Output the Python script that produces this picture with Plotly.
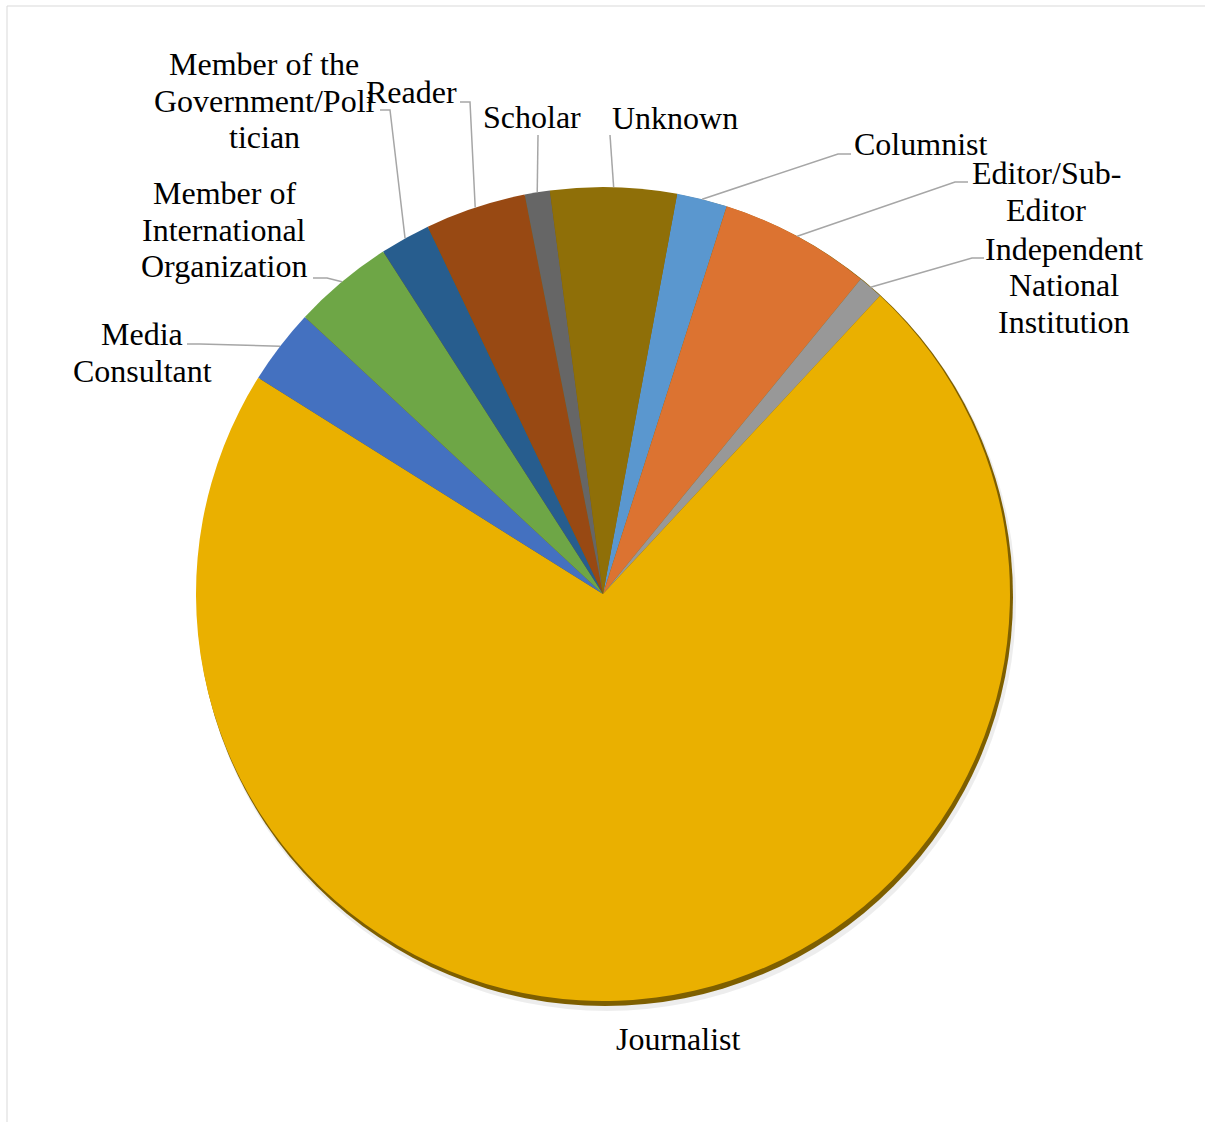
import math
import plotly.graph_objects as go

# ---------------- data ----------------
categories = [
    "Columnist",
    "Editor/Sub-Editor",
    "Independent National Institution",
    "Journalist",
    "Media Consultant",
    "Member of International Organization",
    "Member of the Government/Politician",
    "Reader",
    "Scholar",
    "Unknown",
]
values = [2, 6, 1, 72, 3, 4, 2, 4, 1, 5]
label_text = [
    ["Columnist"],
    ["Editor/Sub-", "Editor"],
    ["Independent", "National", "Institution"],
    ["Journalist"],
    ["Media", "Consultant"],
    ["Member of", "International", "Organization"],
    ["Member of the", "Government/Poli", "tician"],
    ["Reader"],
    ["Scholar"],
    ["Unknown"],
]

# ---------------- style / layout ----------------
W, H = 1205, 1122
colors = ["#5A97CF", "#DC7331", "#989898", "#EAB000", "#4471C0",
          "#6EA646", "#275D8E", "#984913", "#666666", "#8F6F08"]
ROTATION = 10.5
CX, CY, R = 603, 594, 407          # pie centre / radius in pixels
FONT = "Liberation Serif"
FSIZE = 32
LINE_H = 36.5
LEADER = "#A6A6A6"

# label block centre x, first-line centre y, leader start, elbow (pixels)
label_layout = {
    "Columnist": dict(x=921, y=144, start=(851, 154), elbow=(838, 154)),
    "Editor/Sub-Editor": dict(x=1046, y=173, start=(968, 182), elbow=(955, 182)),
    "Independent National Institution": dict(x=1064, y=249, start=(984, 258), elbow=(972, 258)),
    "Journalist": dict(x=678, y=1039, start=None, elbow=None),
    "Media Consultant": dict(x=142, y=334, start=(187, 344), elbow=(200, 344)),
    "Member of International Organization": dict(x=224, y=193, start=(313, 278), elbow=(327, 278)),
    "Member of the Government/Politician": dict(x=264, y=64, start=(380, 110), elbow=(390, 110)),
    "Reader": dict(x=411, y=92, start=(460, 102), elbow=(470, 102)),
    "Scholar": dict(x=532, y=117, start=(538, 135), elbow=(538, 135)),
    "Unknown": dict(x=675, y=118, start=(610, 135), elbow=(610, 135)),
}


def px(x):
    return x / W


def py(y):
    return 1 - y / H


fig = go.Figure()
fig.add_trace(go.Pie(
    labels=categories,
    values=values,
    sort=False,
    direction="clockwise",
    rotation=ROTATION,
    marker=dict(colors=colors, line=dict(width=0)),
    textinfo="none",
    hoverinfo="label+value+percent",
    showlegend=False,
    domain=dict(x=[px(CX - R), px(CX + R)], y=[py(CY + R), py(CY - R)]),
))

shapes = []
# chart-area border (only left and top visible)
shapes.append(dict(type="rect", xref="paper", yref="paper",
                   x0=px(7), x1=px(W + 50), y0=py(H + 50), y1=py(6),
                   line=dict(color="#D9D9D9", width=1), fillcolor="rgba(0,0,0,0)",
                   layer="below"))
# soft shadow + bevel rim behind the pie
shapes.append(dict(type="circle", xref="paper", yref="paper",
                   x0=px(CX - R + 2), x1=px(CX + R + 6), y0=py(CY + R + 10), y1=py(CY - R + 4),
                   fillcolor="rgba(0,0,0,0.07)", line=dict(width=0), layer="below"))
shapes.append(dict(type="circle", xref="paper", yref="paper",
                   x0=px(CX - R + 1), x1=px(CX + R + 3), y0=py(CY + R + 5), y1=py(CY - R + 1),
                   fillcolor="#7E5F00", line=dict(width=0), layer="below"))

annotations = []
total = sum(values)
cum = 0.0
for cat, val, lines in zip(categories, values, label_text):
    mid = ROTATION + (cum + val / 2) / total * 360.0
    cum += val
    a = math.radians(mid)
    ex, ey = CX + R * math.sin(a), CY - R * math.cos(a)
    lay = label_layout[cat]
    for i, t in enumerate(lines):
        annotations.append(dict(
            xref="paper", yref="paper", x=px(lay["x"]), y=py(lay["y"] + i * LINE_H),
            xanchor="center", yanchor="middle", showarrow=False, text=t,
            font=dict(family=FONT, size=FSIZE, color="#000000")))
    if lay["start"] is not None:
        (sx, sy), (bx, by) = lay["start"], lay["elbow"]
        path = f"M {px(sx)} {py(sy)} L {px(bx)} {py(by)} L {px(ex)} {py(ey)}"
        shapes.append(dict(type="path", xref="paper", yref="paper", path=path,
                           line=dict(color=LEADER, width=1.5)))

fig.update_layout(
    width=W, height=H,
    margin=dict(l=0, r=0, t=0, b=0),
    paper_bgcolor="#FFFFFF",
    plot_bgcolor="#FFFFFF",
    shapes=shapes,
    annotations=annotations,
)

fig.write_html("out.html")
